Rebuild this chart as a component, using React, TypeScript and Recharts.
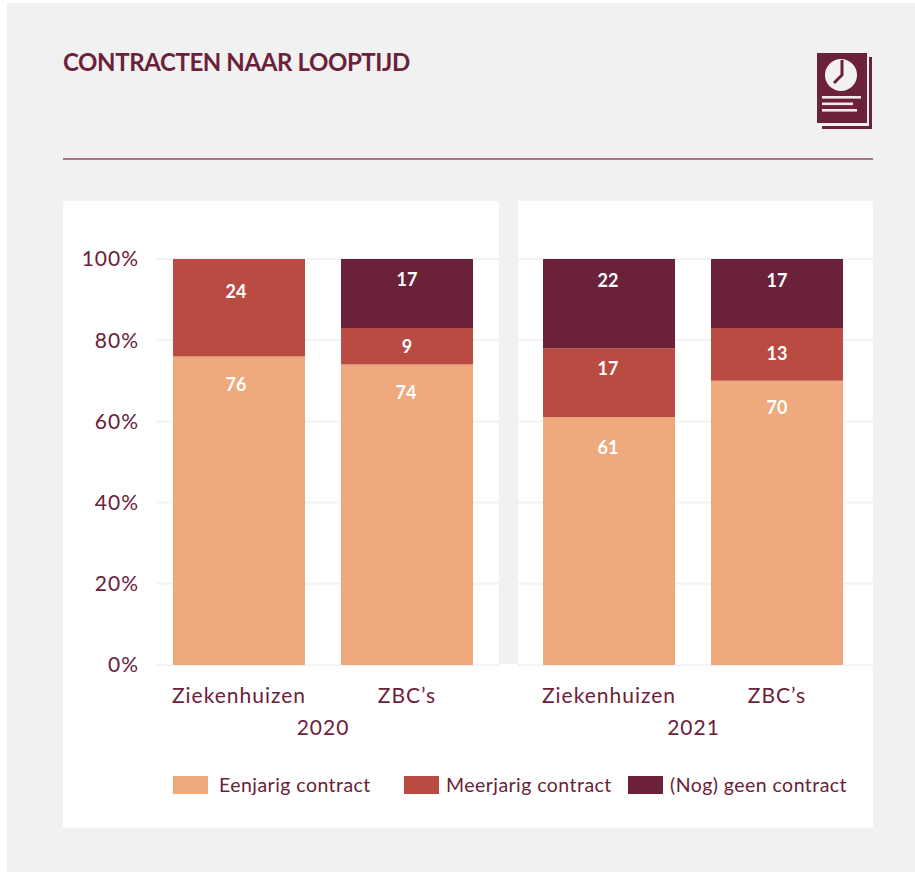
import React from 'react';
import { Bar, BarChart, CartesianGrid, LabelList, XAxis, YAxis } from 'recharts';

const INK = '#6a2139';
const GRID = '#f3f3f3';
const FONT = 'Lato, "Noto Sans", sans-serif';

const categories = ['Ziekenhuizen', 'ZBC\u2019s'];
const yTicks = [0, 20, 40, 60, 80, 100];

const seriesNames = ['Eenjarig contract', 'Meerjarig contract', '(Nog) geen contract'];
const seriesColors = ['#eea97d', '#b94b43', '#6a2139'];

const eenjarig2020 = [76, 74];
const meerjarig2020 = [24, 9];
const geen2020 = [0, 17];

const eenjarig2021 = [61, 70];
const meerjarig2021 = [17, 13];
const geen2021 = [22, 17];

// how far each white number sits below the top of its segment
// (recharts skips the empty segment, so its index starts at the first drawn one)
const labelDrop2020 = [
  [28, 27],
  [32, 18],
  [20, 20],
];
const labelDrop2021 = [
  [30, 26],
  [20, 25],
  [21, 21],
];
// small sideways shift of the numbers inside the bars
const labelShift2020 = [
  [-3, -1],
  [-3, 0],
  [0, 0],
];
const labelShift2021 = [
  [-1, 0],
  [-1, 0],
  [-1, 0],
];

const buildRows = (a: number[], b: number[], c: number[]) =>
  categories.map((name, i) => ({ name, s0: a[i], s1: b[i], s2: c[i] }));

const rows2020 = buildRows(eenjarig2020, meerjarig2020, geen2020);
const rows2021 = buildRows(eenjarig2021, meerjarig2021, geen2021);

const segmentLabel = (drops: number[], shifts: number[]) => (props: any) => {
  const { x, y, width, value, index } = props;
  if (!value) return null;
  return (
    <text
      x={x + width / 2 + shifts[index]}
      y={y + drops[index]}
      textAnchor="middle"
      dominantBaseline="central"
      fill="#fff"
      fontFamily={FONT}
      fontSize={18}
      fontWeight={700}
    >
      {value}
    </text>
  );
};

interface PanelProps {
  rows: typeof rows2020;
  year: string;
  yearDx: number;
  drops: number[][];
  shifts: number[][];
  width: number;
  left: number;
  showY: boolean;
  paddingLeft: number;
  paddingRight: number;
}

function Panel({ rows, year, yearDx, drops, shifts, width, left, showY, paddingLeft, paddingRight }: PanelProps) {
  return (
    <div style={{ position: 'absolute', left, top: 201 }}>
      <BarChart
        width={width}
        height={560}
        data={rows}
        barCategoryGap={18}
        margin={{ top: 58, right: 0, bottom: 0, left: 0 }}
      >
        <CartesianGrid vertical={false} stroke={GRID} strokeWidth={2} />
        <XAxis
          dataKey="name"
          axisLine={false}
          tickLine={false}
          interval={0}
          tickMargin={17}
          height={96}
          padding={{ left: paddingLeft, right: paddingRight }}
          tick={{ fill: INK, fontSize: 21, fontFamily: FONT, letterSpacing: 1 }}
          label={{ value: year, position: 'center', dx: yearDx, dy: 15, fill: INK, fontSize: 21, fontFamily: FONT, letterSpacing: 1 }}
        />
        <YAxis
          hide={!showY}
          width={94}
          domain={[0, 100]}
          ticks={yTicks}
          interval={0}
          axisLine={false}
          tickLine={false}
          tickMargin={12}
          tickFormatter={(v: number) => `${v}%`}
          tick={{ fill: INK, fontSize: 21, fontFamily: FONT, letterSpacing: 1 }}
        />
        {seriesNames.map((name, i) => (
          <Bar
            key={name}
            dataKey={`s${i}`}
            name={name}
            stackId="a"
            fill={seriesColors[i]}
            isAnimationActive={false}
          >
            <LabelList dataKey={`s${i}`} content={segmentLabel(drops[i], shifts[i])} />
          </Bar>
        ))}
      </BarChart>
    </div>
  );
}

function ReportIcon() {
  return (
    <svg width={60} height={78} viewBox="0 0 60 78" style={{ position: 'absolute', left: 815, top: 52 }}>
      <rect x={7} y={5} width={50} height={72} fill={INK} />
      <rect x={2} y={1} width={52} height={73} fill="#f1f1f1" />
      <rect x={2} y={1} width={50} height={70} fill={INK} />
      <circle cx={26} cy={23} r={16} fill="#f3f0f0" />
      <path d="M27 8 V23 L19 31" fill="none" stroke={INK} strokeWidth={3} />
      <rect x={7} y={44} width={39} height={2.6} fill="#f3e9ea" />
      <rect x={7} y={50.5} width={31} height={2.6} fill="#f3e9ea" />
      <rect x={7} y={57} width={35} height={2.6} fill="#f3e9ea" />
    </svg>
  );
}

const legendSpots = [
  { swatch: 173, text: 219 },
  { swatch: 404, text: 446 },
  { swatch: 628, text: 670 },
];

export default function App() {
  return (
    <div style={{ position: 'absolute', left: 0, top: 0, width: 915, height: 872, background: '#fff', overflow: 'hidden', fontFamily: FONT }}>
      <div style={{ position: 'absolute', left: 7, top: 3, width: 908, height: 869, background: '#f1f1f1' }} />
      <div
        style={{
          position: 'absolute',
          left: 63,
          top: 46,
          color: INK,
          fontSize: 24,
          fontWeight: 700,
          letterSpacing: -0.4,
          lineHeight: '32px',
          whiteSpace: 'nowrap',
        }}
      >
        CONTRACTEN NAAR LOOPTIJD
      </div>
      <ReportIcon />
      <div style={{ position: 'absolute', left: 63, top: 158, width: 810, height: 2, background: '#a77688' }} />

      <div style={{ position: 'absolute', left: 63, top: 201, width: 436, height: 627, background: '#fff' }} />
      <div style={{ position: 'absolute', left: 518, top: 201, width: 355, height: 627, background: '#fff' }} />
      <div style={{ position: 'absolute', left: 499, top: 664, width: 19, height: 164, background: '#fff' }} />

      <Panel rows={rows2020} year="2020" yearDx={-5} drops={labelDrop2020} shifts={labelShift2020} width={436} left={63} showY paddingLeft={-2} paddingRight={8} />
      <Panel rows={rows2021} year="2021" yearDx={-2} drops={labelDrop2021} shifts={labelShift2021} width={355} left={518} showY={false} paddingLeft={7} paddingRight={12} />

      {seriesNames.map((name, i) => (
        <React.Fragment key={name}>
          <div style={{ position: 'absolute', left: legendSpots[i].swatch, top: 776, width: 35, height: 18, background: seriesColors[i] }} />
          <div style={{ position: 'absolute', left: legendSpots[i].text, top: 772, color: INK, fontSize: 19.5, letterSpacing: 0.45, lineHeight: '26px', whiteSpace: 'nowrap' }}>
            {name}
          </div>
        </React.Fragment>
      ))}
    </div>
  );
}
